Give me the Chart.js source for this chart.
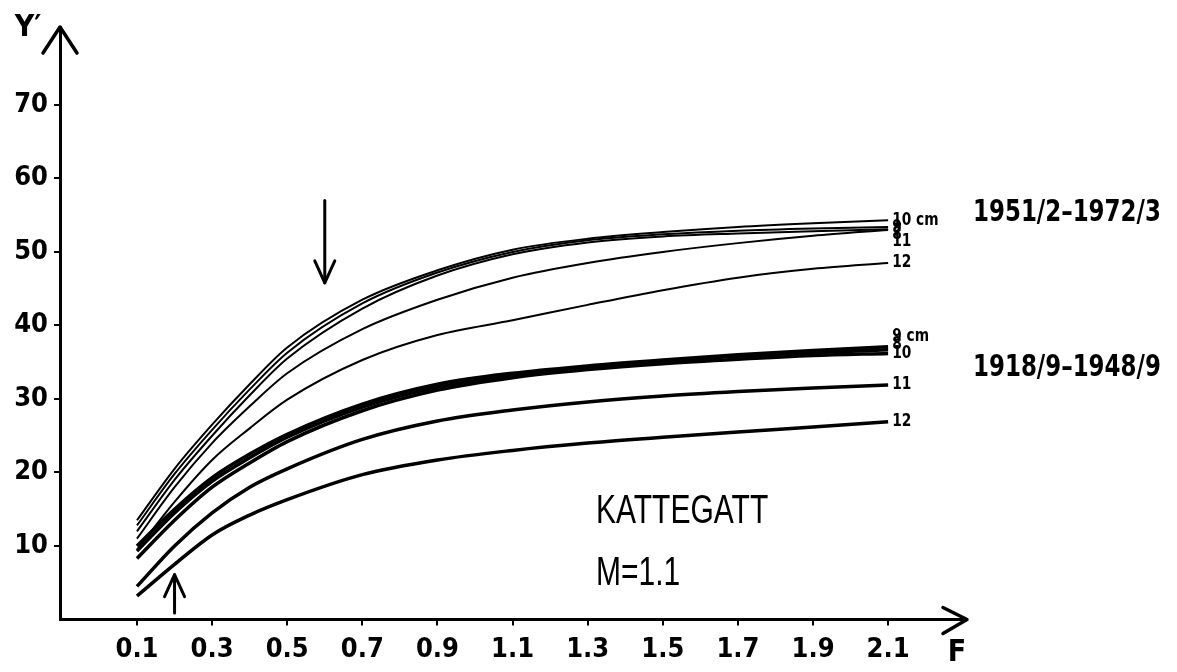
<!DOCTYPE html>
<html>
<head>
<meta charset="utf-8">
<script src="https://cdn.jsdelivr.net/npm/chart.js@4.4.1/dist/chart.umd.min.js"></script>
<style>
html, body { margin: 0; padding: 0; background: #fff; }
#wrap { width: 1177px; height: 672px; position: relative; }
</style>
</head>
<body>
<div id="wrap"><canvas id="yieldChart" width="1177" height="672"></canvas></div>
<script>
// fishing mortality F (x values of every curve)
const fishingMortality = [0.1, 0.2, 0.3, 0.4, 0.5, 0.7, 0.9, 1.1, 1.3, 1.5, 1.7, 1.9, 2.1];
const xTickValues = [0.1, 0.3, 0.5, 0.7, 0.9, 1.1, 1.3, 1.5, 1.7, 1.9, 2.1];
const yTickValues = [10, 20, 30, 40, 50, 60, 70];

// 1951/2 - 1972/3, yield Y' per mesh size
const recentLabels = ['10 cm', '9', '8', '11', '12'];
const recent10 = [13.5, 20.5, 26.5, 32.0, 37.0, 43.5, 47.5, 50.3, 51.8, 52.7, 53.4, 53.9, 54.3];
const recent9  = [12.8, 19.8, 25.8, 31.3, 36.3, 43.0, 47.2, 50.0, 51.6, 52.4, 52.9, 53.2, 53.4];
const recent8  = [12.0, 19.0, 25.0, 30.5, 35.5, 42.3, 46.8, 49.7, 51.3, 52.1, 52.5, 52.8, 53.1];
const recent11 = [11.0, 18.0, 24.0, 29.0, 33.5, 39.5, 43.5, 46.5, 48.5, 50.0, 51.2, 52.2, 53.0];
const recent12 = [9.5, 16.0, 21.7, 26.0, 29.9, 35.3, 38.7, 40.7, 42.8, 44.8, 46.5, 47.7, 48.5];

// 1918/9 - 1948/9
const earlyLabels = ['9 cm', '8', '10', '11', '12'];
const early9  = [10.0, 15.0, 19.3, 22.5, 25.2, 29.3, 32.0, 33.5, 34.5, 35.3, 36.0, 36.6, 37.1];
const early8  = [9.3, 14.5, 18.8, 22.0, 24.8, 28.9, 31.6, 33.2, 34.3, 35.1, 35.8, 36.3, 36.7];
const early10 = [8.3, 13.5, 18.0, 21.3, 24.2, 28.4, 31.2, 32.9, 34.0, 34.8, 35.4, 35.9, 36.2];
const early11 = [4.5, 10.0, 14.5, 18.0, 20.5, 24.5, 27.0, 28.5, 29.6, 30.4, 31.0, 31.5, 31.9];
const early12 = [3.2, 7.5, 11.5, 14.2, 16.3, 19.7, 21.7, 23.0, 24.0, 24.8, 25.5, 26.2, 26.9];

const periodNames = ['1951/2\u20131972/3', '1918/9\u20131948/9'];
const areaName = 'KATTEGATT';
const mortalityNote = 'M=1.1';

// arrows marking F values: [F, from Y', to Y']
const markerArrows = [[0.6, 57, 45.8], [0.2, 0.9, 6.1]];

const narrow = "'DejaVu Sans Condensed', 'DejaVu Sans', sans-serif";
const tickFont = { family: narrow, size: 27, weight: 'bold' };

function toPoints(values) {
    return values.map((v, i) => ({ x: fishingMortality[i], y: v }));
}

function makeSet(label, values, group, width) {
    return {
        label: label,
        data: toPoints(values),
        group: group,
        borderColor: '#000',
        borderWidth: width,
        pointRadius: 0,
        fill: false,
        cubicInterpolationMode: 'monotone'
    };
}

const datasets = [
    makeSet(recentLabels[0], recent10, 0, 2),
    makeSet(recentLabels[1], recent9, 0, 2),
    makeSet(recentLabels[2], recent8, 0, 2),
    makeSet(recentLabels[3], recent11, 0, 2),
    makeSet(recentLabels[4], recent12, 0, 2),
    makeSet(earlyLabels[0], early9, 1, 3.5),
    makeSet(earlyLabels[1], early8, 1, 3.5),
    makeSet(earlyLabels[2], early10, 1, 3.5),
    makeSet(earlyLabels[3], early11, 1, 3.5),
    makeSet(earlyLabels[4], early12, 1, 3.5)
];

function drawHead(ctx, tipX, tipY, ax, ay, bx, by) {
    ctx.beginPath();
    ctx.moveTo(ax, ay);
    ctx.lineTo(tipX, tipY);
    ctx.lineTo(bx, by);
    ctx.stroke();
}

// text squeezed horizontally, to get the tall narrow lettering of the drawing
function squeezedText(ctx, text, x, y, sx) {
    ctx.save();
    ctx.translate(x, y);
    ctx.scale(sx, 1);
    ctx.fillText(text, 0, 0);
    ctx.restore();
}

const decorations = {
    id: 'decorations',
    afterDatasetsDraw(chart) {
        const ctx = chart.ctx;
        const area = chart.chartArea;
        const xs = chart.scales.x;
        const ys = chart.scales.y;
        ctx.save();
        ctx.strokeStyle = '#000';
        ctx.fillStyle = '#000';
        ctx.lineCap = 'round';
        ctx.lineJoin = 'round';

        // axis arrow heads
        ctx.lineWidth = 3.5;
        drawHead(ctx, area.left, area.top, area.left - 17, area.top + 26, area.left + 17, area.top + 26);
        drawHead(ctx, area.right, area.bottom, area.right - 24, area.bottom - 12, area.right - 24, area.bottom + 14);

        // marker arrows
        markerArrows.forEach(a => {
            const x = xs.getPixelForValue(a[0]);
            const y0 = ys.getPixelForValue(a[1]);
            const y1 = ys.getPixelForValue(a[2]);
            const dir = y1 > y0 ? -1 : 1;
            ctx.lineWidth = 3;
            ctx.beginPath();
            ctx.moveTo(x, y0);
            ctx.lineTo(x, y1);
            ctx.stroke();
            drawHead(ctx, x, y1, x - 10, y1 + dir * 22, x + 10, y1 + dir * 22);
        });

        // curve end labels: upper cluster hangs below its top line, lower cluster stacks above its bottom line
        ctx.font = 'bold 17px ' + narrow;
        ctx.textBaseline = 'middle';
        ctx.textAlign = 'left';
        const labelX = xs.getPixelForValue(2.1) + 4;
        [0, 1].forEach(g => {
            const ends = [];
            chart.data.datasets.forEach((ds, i) => {
                if (ds.group !== g) return;
                const pts = chart.getDatasetMeta(i).data;
                ends.push({ text: ds.label, y: pts[pts.length - 1].y });
            });
            if (g === 0) {
                for (let i = 1; i < 4; i++) ends[i].y = ends[0].y + i * 7;
            } else {
                for (let i = 0; i < 2; i++) ends[i].y = ends[2].y - (2 - i) * 8.5;
            }
            ends.forEach(e => squeezedText(ctx, e.text, labelX, e.y, 0.9));
        });

        // period labels next to each group
        ctx.font = 'bold 30px ' + narrow;
        squeezedText(ctx, periodNames[0], 973, ys.getPixelForValue(55.3), 0.85);
        squeezedText(ctx, periodNames[1], 973, ys.getPixelForValue(34.2), 0.85);

        // axis titles
        ctx.textAlign = 'center';
        ctx.fillText('Y\u2032', 28, 28);
        ctx.fillText('F', area.right - 10, 653);

        // area name
        ctx.font = '40px Liberation Sans, sans-serif';
        ctx.textAlign = 'left';
        ctx.textBaseline = 'alphabetic';
        squeezedText(ctx, areaName, 596, 523, 0.75);
        squeezedText(ctx, mortalityNote, 596, 585, 0.75);
        ctx.restore();
    }
};

const ctxYield = document.getElementById('yieldChart').getContext('2d');
new Chart(ctxYield, {
    type: 'line',
    data: { datasets: datasets },
    plugins: [decorations],
    options: {
        responsive: false,
        animation: false,
        devicePixelRatio: 1,
        layout: { padding: { top: 27, right: 210, left: 0, bottom: 0 } },
        plugins: { legend: { display: false }, tooltip: { enabled: false } },
        scales: {
            x: {
                type: 'linear',
                min: -0.105,
                max: 2.31,
                afterBuildTicks: s => { s.ticks = xTickValues.map(v => ({ value: v })); },
                afterFit: s => { s.height = 52.5; },
                grid: { drawOnChartArea: false, drawTicks: true, tickLength: 6, color: '#000', lineWidth: 2 },
                border: { display: true, color: '#000', width: 3 },
                ticks: {
                    color: '#000', font: tickFont, padding: 8, maxRotation: 0, autoSkip: false,
                    callback: v => v.toFixed(1)
                }
            },
            y: {
                type: 'linear',
                min: 0,
                max: 80.6,
                afterBuildTicks: s => { s.ticks = yTickValues.map(v => ({ value: v })); },
                afterFit: s => { s.width = 60; },
                grid: { drawOnChartArea: false, drawTicks: true, tickLength: 6, color: '#000', lineWidth: 2 },
                border: { display: true, color: '#000', width: 3 },
                ticks: { color: '#000', font: tickFont, padding: 6 }
            }
        }
    }
});
</script>
</body>
</html>
